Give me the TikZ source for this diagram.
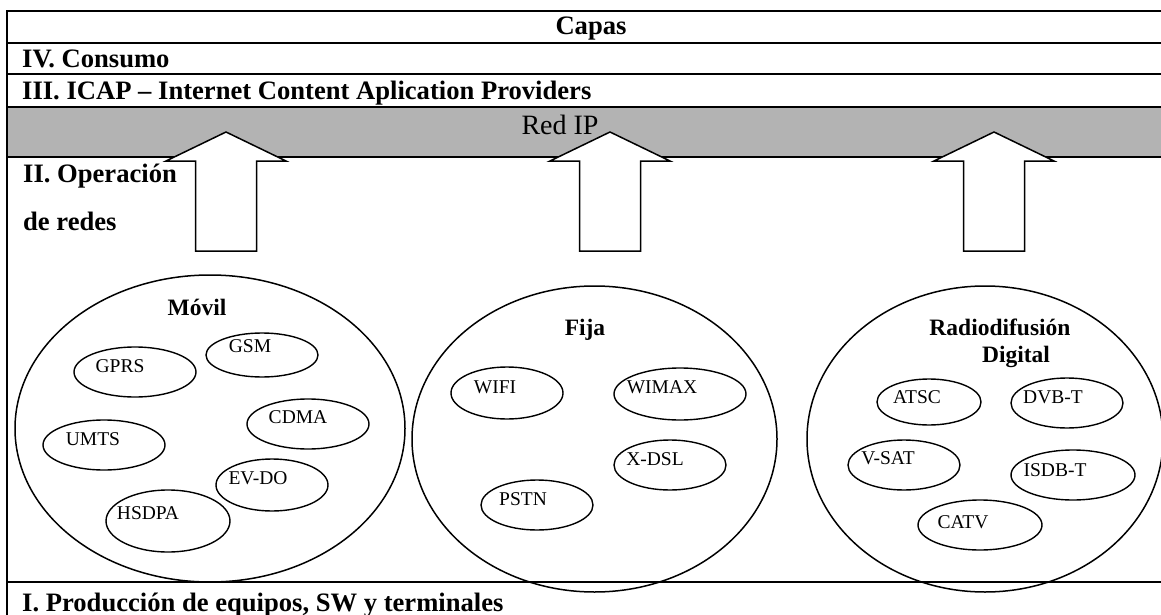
\documentclass[tikz,border=0pt]{standalone}
\usepackage{fontspec}
\setmainfont{Liberation Serif}
\usetikzlibrary{shapes.geometric}
\definecolor{ipgray}{HTML}{B3B3B3}
% upward block arrow: centre x, tip y, head base y, bottom y
\newcommand\netarrow[2]{%
  \draw[uparrow] (#1,132) -- (#1+60,161) -- (#1+30.5,161) -- (#1+30.5,251)
    -- (#1-30.5,251) -- (#1-30.5,161) -- (#1-60,161) -- cycle;
  \coordinate (#2) at (#1,132);}
\begin{document}
\begin{tikzpicture}[x=1pt,y=-1pt,
  rule/.style={line width=2pt},
  head/.style={font=\fontsize{26.6}{30}\selectfont\bfseries, inner sep=0, anchor=base west},
  tech/.style={draw, ellipse, line width=1.4pt, inner sep=0},
  family/.style={draw, ellipse, line width=1.5pt, inner sep=0},
  lbl/.style={font=\fontsize{19.5}{22}\selectfont, inner sep=0},
  grp/.style={font=\fontsize{23.5}{26}\selectfont\bfseries, inner sep=0, anchor=base},
  uparrow/.style={draw, fill=white, line width=1.5pt, line join=miter}]
\useasboundingbox (0,0) rectangle (1161,615);
\clip (0,0) rectangle (1161,615);

% IP network band
\fill[ipgray] (7,106.7) rectangle (1170,156.7);

% table rules
\draw[rule] (7,615) -- (7,10.7) -- (1170,10.7);
\draw[rule] (7,42.7) -- (1170,42.7);
\draw[rule] (7,74) -- (1170,74);
\draw[rule] (7,106.7) -- (1170,106.7);
\draw[rule] (7,156.7) -- (1170,156.7);
\draw[rule] (7,582) -- (1170,582);

% layer titles
\node[head, anchor=base] (capas) at (591,35) {Capas};
\node[head] (l4) at (22,68) {IV. Consumo};
\node[head] (l3) at (22,100) {III. ICAP – Internet Content Aplication Providers};
\node[font=\fontsize{28}{30}\selectfont, inner sep=0, anchor=base] (redip) at (560,135) {Red IP};
\node[head] (l2a) at (23,182) {II. Operación};
\node[head] (l2b) at (23,230) {de redes};
\node[head] (l1) at (22,611) {I. Producción de equipos, SW y terminales};

% network families
\node[family, minimum width=390, minimum height=307] (movil) at (210,428.5) {};
\node[family, minimum width=365, minimum height=306] (fija) at (594.5,439) {};
\node[family, minimum width=356, minimum height=306] (radio) at (985,439) {};

\node[grp] (tmovil) at (197,315) {Móvil};
\node[grp] (tfija) at (585,335) {Fija};
\node[grp] (tradio) at (1000,335) {Radiodifusión};
\node[grp] (tdig) at (1016,362) {Digital};

% mobile technologies
\node[tech, minimum width=122, minimum height=50] (gprs) at (135,372) {};
\node[tech, minimum width=112, minimum height=44] (gsm) at (262,355) {};
\node[tech, minimum width=122, minimum height=50] (cdma) at (308,424) {};
\node[tech, minimum width=122, minimum height=50] (umts) at (104,445) {};
\node[tech, minimum width=112, minimum height=52] (evdo) at (272,485) {};
\node[tech, minimum width=124, minimum height=62] (hsdpa) at (168,521) {};
\node[lbl] at (120,366) {GPRS};
\node[lbl] at (250,346) {GSM};
\node[lbl] at (298,417) {CDMA};
\node[lbl] at (93,439) {UMTS};
\node[lbl] at (258,478) {EV-DO};
\node[lbl] at (148,513) {HSDPA};

% fixed technologies
\node[tech, minimum width=112, minimum height=52] (wifi) at (507,393) {};
\node[tech, minimum width=132, minimum height=52] (wimax) at (680,394) {};
\node[tech, minimum width=112, minimum height=50] (xdsl) at (670,465) {};
\node[tech, minimum width=112, minimum height=50] (pstn) at (537,505) {};
\node[lbl] at (495,387) {WIFI};
\node[lbl] at (662,387) {WIMAX};
\node[lbl] at (655,459) {X-DSL};
\node[lbl] at (523,499) {PSTN};

% digital broadcasting technologies
\node[tech, minimum width=104, minimum height=46] (atsc) at (929,402) {};
\node[tech, minimum width=112, minimum height=50] (dvbt) at (1067,403) {};
\node[tech, minimum width=112, minimum height=50] (vsat) at (904,465) {};
\node[tech, minimum width=124, minimum height=50] (isdbt) at (1073,475) {};
\node[tech, minimum width=124, minimum height=50] (catv) at (980,525) {};
\node[lbl] at (917,397) {ATSC};
\node[lbl] at (1053,397) {DVB-T};
\node[lbl] at (888,458) {V-SAT};
\node[lbl] at (1055,470) {ISDB-T};
\node[lbl] at (963,522) {CATV};

% access networks feeding the IP network
\netarrow{226}{amovil}
\netarrow{610}{afija}
\netarrow{994}{aradio}
\end{tikzpicture}
\end{document}
